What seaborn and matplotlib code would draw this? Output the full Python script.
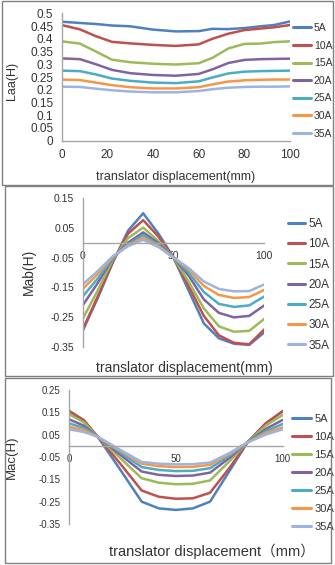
import numpy as np
import pandas as pd
import matplotlib
matplotlib.use("Agg")
import matplotlib.pyplot as plt
import seaborn as sns
from matplotlib.patches import Rectangle

# ---------- DATA ----------
currents = ['5A', '10A', '15A', '20A', '25A', '30A', '35A']
colors = ['#4F81BD', '#C0504D', '#9BBB59', '#8064A2', '#4BACC6', '#F79646', '#9DB3E0']

# Laa(H)
x_laa = [0, 8, 15, 22, 30, 40, 50, 60, 66, 73, 80, 87, 93, 100]
laa_5 = [0.467, 0.462, 0.458, 0.452, 0.449, 0.436, 0.429, 0.430, 0.439, 0.438, 0.442, 0.449, 0.454, 0.468]
laa_10 = [0.454, 0.437, 0.410, 0.388, 0.382, 0.376, 0.372, 0.378, 0.400, 0.420, 0.434, 0.440, 0.445, 0.454]
laa_15 = [0.390, 0.381, 0.350, 0.318, 0.308, 0.302, 0.299, 0.304, 0.325, 0.362, 0.380, 0.381, 0.387, 0.390]
laa_20 = [0.323, 0.320, 0.300, 0.278, 0.265, 0.258, 0.255, 0.262, 0.280, 0.305, 0.317, 0.320, 0.321, 0.322]
laa_25 = [0.275, 0.273, 0.260, 0.244, 0.235, 0.228, 0.226, 0.233, 0.248, 0.264, 0.271, 0.273, 0.274, 0.275]
laa_30 = [0.240, 0.238, 0.228, 0.218, 0.210, 0.205, 0.205, 0.210, 0.221, 0.232, 0.237, 0.239, 0.240, 0.240]
laa_35 = [0.212, 0.211, 0.204, 0.198, 0.193, 0.190, 0.190, 0.195, 0.202, 0.208, 0.211, 0.212, 0.212, 0.213]

# Mab(H)
x_mab = [0, 8.3, 16.7, 25, 33.3, 41.7, 50, 58.3, 66.7, 75, 83.3, 91.7, 100]
mab_5 = [-0.295, -0.185, -0.065, 0.040, 0.098, 0.030, -0.050, -0.160, -0.270, -0.320, -0.338, -0.342, -0.300]
mab_10 = [-0.290, -0.180, -0.062, 0.030, 0.075, 0.020, -0.050, -0.145, -0.245, -0.310, -0.335, -0.340, -0.290]
mab_15 = [-0.255, -0.160, -0.055, 0.015, 0.050, 0.005, -0.050, -0.130, -0.220, -0.280, -0.298, -0.295, -0.255]
mab_20 = [-0.210, -0.135, -0.050, 0.000, 0.034, -0.002, -0.050, -0.110, -0.190, -0.235, -0.250, -0.245, -0.210]
mab_25 = [-0.180, -0.120, -0.050, -0.005, 0.025, -0.008, -0.050, -0.100, -0.165, -0.205, -0.215, -0.210, -0.180]
mab_30 = [-0.155, -0.105, -0.047, -0.010, 0.016, -0.012, -0.050, -0.090, -0.145, -0.175, -0.185, -0.182, -0.158]
mab_35 = [-0.140, -0.095, -0.045, -0.012, 0.009, -0.015, -0.050, -0.085, -0.130, -0.155, -0.163, -0.162, -0.140]

# Mac(H)
x_mac = [0, 7, 13.5, 24, 34, 42, 50, 58, 66, 75, 83.5, 92, 100]
mac_5 = [0.155, 0.110, 0.040, -0.107, -0.250, -0.280, -0.287, -0.280, -0.250, -0.114, 0.015, 0.100, 0.155]
mac_10 = [0.157, 0.115, 0.040, -0.080, -0.200, -0.228, -0.237, -0.235, -0.210, -0.100, 0.015, 0.100, 0.155]
mac_15 = [0.142, 0.105, 0.040, -0.055, -0.145, -0.165, -0.172, -0.170, -0.155, -0.070, 0.015, 0.090, 0.138]
mac_20 = [0.119, 0.090, 0.040, -0.040, -0.115, -0.130, -0.135, -0.133, -0.120, -0.055, 0.015, 0.075, 0.116]
mac_25 = [0.101, 0.080, 0.040, -0.030, -0.095, -0.108, -0.113, -0.112, -0.100, -0.045, 0.015, 0.065, 0.098]
mac_30 = [0.086, 0.070, 0.040, -0.022, -0.080, -0.091, -0.095, -0.094, -0.085, -0.038, 0.015, 0.057, 0.083]
mac_35 = [0.074, 0.062, 0.040, -0.018, -0.072, -0.080, -0.083, -0.082, -0.075, -0.033, 0.015, 0.050, 0.074]


def long_form(x, series):
    rows = []
    for name, vals in zip(currents, series):
        for xi, yi in zip(x, vals):
            rows.append({'x': xi, 'val': yi, 'current': name})
    return pd.DataFrame(rows)


df_laa = long_form(x_laa, [laa_5, laa_10, laa_15, laa_20, laa_25, laa_30, laa_35])
df_mab = long_form(x_mab, [mab_5, mab_10, mab_15, mab_20, mab_25, mab_30, mab_35])
df_mac = long_form(x_mac, [mac_5, mac_10, mac_15, mac_20, mac_25, mac_30, mac_35])

# ---------- STYLE ----------
sns.set_style('white')
plt.rcParams['font.family'] = ['Liberation Sans', 'Noto Sans CJK SC', 'DejaVu Sans']
plt.rcParams['axes.unicode_minus'] = False

W, H = 335, 565
fig = plt.figure(figsize=(W / 100, H / 100), dpi=100)
fig.patch.set_facecolor('white')

axis_col = '#a6a6a6'
text_col = '#333333'


def px_axes(box):
    # pixel box (top-left origin) -> figure axes
    x0, y0, x1, y1 = box
    return fig.add_axes([x0 / W, 1 - y1 / H, (x1 - x0) / W, (y1 - y0) / H])


def style_axes(ax, zero_axis, tick_size):
    for s in ['top', 'right']:
        ax.spines[s].set_visible(False)
    for s in ['left', 'bottom']:
        ax.spines[s].set_color(axis_col)
        ax.spines[s].set_linewidth(1.0)
    if zero_axis:
        ax.spines['bottom'].set_position(('data', 0))
    ax.tick_params(axis='both', direction='out', length=3, width=1,
                   color=axis_col, labelsize=tick_size, labelcolor=text_col, pad=3)
    ax.yaxis.set_major_formatter(plt.FuncFormatter(lambda v, p: f'{round(v, 2):g}'))
    ax.grid(False)
    ax.set_facecolor('none')


def place_labels(ax, box, xlab, xl_pos, xl_size, ylab, yl_pos, yl_size):
    # label centres given in pixels
    x0, y0, x1, y1 = box
    ax.set_xlabel(xlab, fontsize=xl_size, color=text_col)
    ax.xaxis.label.set_va('center')
    ax.xaxis.set_label_coords((xl_pos[0] - x0) / (x1 - x0), (y1 - xl_pos[1]) / (y1 - y0))
    ax.set_ylabel(ylab, fontsize=yl_size, color=text_col)
    ax.yaxis.label.set_va('center')
    ax.yaxis.set_label_coords((yl_pos[0] - x0) / (x1 - x0), (y1 - yl_pos[1]) / (y1 - y0))


def add_legend(ax, x_px, y_px, size, spacing, hlen):
    sns.move_legend(ax, 'upper left', bbox_to_anchor=(x_px / W, 1 - y_px / H),
                    bbox_transform=fig.transFigure, frameon=False, title=None,
                    fontsize=size, handlelength=hlen, handletextpad=0.3,
                    labelspacing=spacing, borderpad=0, borderaxespad=0)
    for t in ax.get_legend().get_texts():
        t.set_color(text_col)
    for l in ax.get_legend().get_lines():
        l.set_linewidth(2.2)


# ---------- PANEL 1: Laa ----------
box1 = (61.7, 13.3, 290, 140.7)
ax1 = px_axes(box1)
sns.lineplot(data=df_laa, x='x', y='val', hue='current', palette=colors,
             linewidth=1.8, ax=ax1, legend=True)
ax1.set_xlim(0, 100)
ax1.set_ylim(0, 0.5)
ax1.set_yticks(np.arange(0, 0.501, 0.05))
ax1.set_xticks([0, 20, 40, 60, 80, 100])
style_axes(ax1, False, 8.5)
place_labels(ax1, box1, 'translator displacement(mm)', (176, 177), 9,
             'Laa(H)', (12, 81), 9)
add_legend(ax1, 293, 23, 7.5, 0.73, 1.7)

# ---------- PANEL 2: Mab ----------
box2 = (82.7, 197.7, 264.3, 347.3)
ax2 = px_axes(box2)
sns.lineplot(data=df_mab, x='x', y='val', hue='current', palette=colors,
             linewidth=1.8, ax=ax2, legend=True)
ax2.set_xlim(0, 100)
ax2.set_ylim(-0.35, 0.15)
ax2.set_yticks([-0.35, -0.25, -0.15, -0.05, 0.05, 0.15])
ax2.set_xticks([0, 50, 100])
style_axes(ax2, True, 7.5)
place_labels(ax2, box2, 'translator displacement(mm)', (184, 367.7), 10,
             'Mab(H)', (29, 272), 10)
add_legend(ax2, 288, 218, 8.5, 0.7, 1.4)

# ---------- PANEL 3: Mac ----------
box3 = (69, 390, 282.7, 524)
ax3 = px_axes(box3)
sns.lineplot(data=df_mac, x='x', y='val', hue='current', palette=colors,
             linewidth=1.8, ax=ax3, legend=True)
ax3.set_xlim(0, 100)
ax3.set_ylim(-0.35, 0.25)
ax3.set_yticks([-0.35, -0.25, -0.15, -0.05, 0.05, 0.15, 0.25])
ax3.set_xticks([0, 50, 100])
style_axes(ax3, True, 7)
place_labels(ax3, box3, 'translator displacement\uff08mm\uff09', (212, 551.7), 10.5,
             'Mac(H)', (12, 457), 9.5)
add_legend(ax3, 292, 414, 8, 0.72, 1.7)

# ---------- PANEL FRAMES ----------
for (x0, y0, x1, y1) in [(2, 1, 333, 185), (5, 186, 333, 376), (5, 378, 331, 563)]:
    fig.add_artist(Rectangle((x0 / W, 1 - y1 / H), (x1 - x0) / W, (y1 - y0) / H,
                             transform=fig.transFigure, fill=False,
                             edgecolor='#808080', linewidth=1))

plt.savefig('out.png', dpi=100)
